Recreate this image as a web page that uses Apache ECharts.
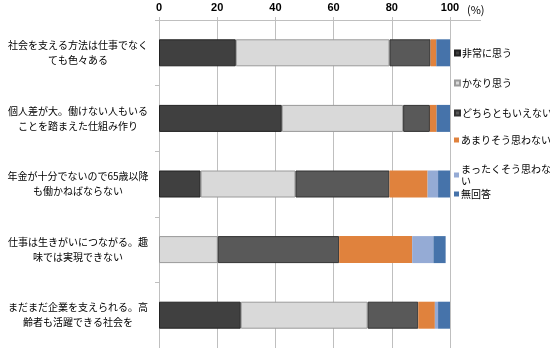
<!DOCTYPE html>
<html><head><meta charset="utf-8">
<script src="https://cdn.jsdelivr.net/npm/echarts@6/dist/echarts.min.js"></script>
<style>html,body{margin:0;padding:0;background:#fff;}#c{width:550px;height:348px;}</style>
</head><body><div id="c"></div>
<script>
const categories = [
  '社会を支える方法は仕事でなく\nても色々ある',
  '個人差が大。働けない人もいる\nことを踏まえた仕組み作り',
  '年金が十分でないので65歳以降\nも働かねばならない',
  '仕事は生きがいにつながる。趣\n味では実現できない',
  'まだまだ企業を支えられる。高\n齢者も活躍できる社会を'
];
const seriesNames = ['非常に思う','かなり思う','どちらともいえない','あまりそう思わない','まったくそう思わない','無回答'];
const v1 = [26.4, 42.2, 14.3, 0, 28.1];
const v2 = [52.8, 41.7, 32.6, 20.2, 43.6];
const v3 = [14.1, 9.2, 32.3, 41.7, 17.4];
const v4 = [2.0, 2.3, 13.1, 25.1, 5.7];
const v5 = [0, 0, 3.6, 7.3, 1.1];
const v6 = [4.7, 4.6, 4.1, 4.2, 4.1];
const xTicks = [0, 20, 40, 60, 80, 100];

const values = [v1, v2, v3, v4, v5, v6];
const colors = ['#404040','#d9d9d9','#595959','#e0823d','#95abd5','#4673aa'];
const borders = ['#222','#9a9a9a','#333', null, null, null];
const legendTops = [47, 77, 107, 134, 163, 188];

const chart = echarts.init(document.getElementById('c'));
const font = '"Noto Sans CJK JP", sans-serif';
chart.setOption({
  animation: false,
  textStyle: {fontFamily: font},
  grid: {left: 159, right: 100, top: 20, height: 342},
  xAxis: {
    type: 'value', position: 'top', min: 0, max: 100, interval: 20,
    axisLine: {show: true, lineStyle: {color: '#bfbfbf'}},
    axisTick: {show: true, length: 3, lineStyle: {color: '#bfbfbf'}},
    splitLine: {show: true, lineStyle: {color: '#bfbfbf'}},
    axisLabel: {margin: 7, color: '#000', fontWeight: 'bold', fontSize: 11, fontFamily: 'Liberation Sans, Arial, sans-serif',
      formatter: v => xTicks.includes(v) ? String(v) : ''}
  },
  yAxis: {
    type: 'category', inverse: true, data: categories,
    axisLine: {show: true, lineStyle: {color: '#bfbfbf'}},
    axisTick: {show: true, length: 4, lineStyle: {color: '#bfbfbf'}},
    axisLabel: {align: 'center', margin: 81, color: '#000', fontSize: 10, lineHeight: 15, fontFamily: font}
  },
  legend: seriesNames.map((n, i) => ({
    data: [n], orient: 'vertical', left: 454, top: legendTops[i],
    icon: 'rect', itemWidth: 5, itemHeight: 5, itemGap: 0,
    padding: 0,
    textStyle: {fontSize: 10, color: '#000', fontFamily: font, width: 90, overflow: 'break', lineHeight: 12, padding: [0,0,0,-3]},
    selectedMode: false
  })),
  series: seriesNames.map((n, i) => ({
    name: n, type: 'bar', stack: 'all', data: values[i].map(v => v === 0 ? '-' : v), barWidth: 27,
    itemStyle: {color: colors[i], borderColor: borders[i] || colors[i], borderWidth: borders[i] ? 1 : 0},
    emphasis: {disabled: true}
  })),
  graphic: [
    {type: 'line', shape: {x1: 450, y1: 20.5, x2: 481, y2: 20.5}, style: {stroke: '#bfbfbf', lineWidth: 1}},
    {type: 'text', left: 467, top: 4, style: {text: '(%)', fontSize: 11, fontFamily: font, fill: '#000'}}
  ]
});
</script></body></html>
